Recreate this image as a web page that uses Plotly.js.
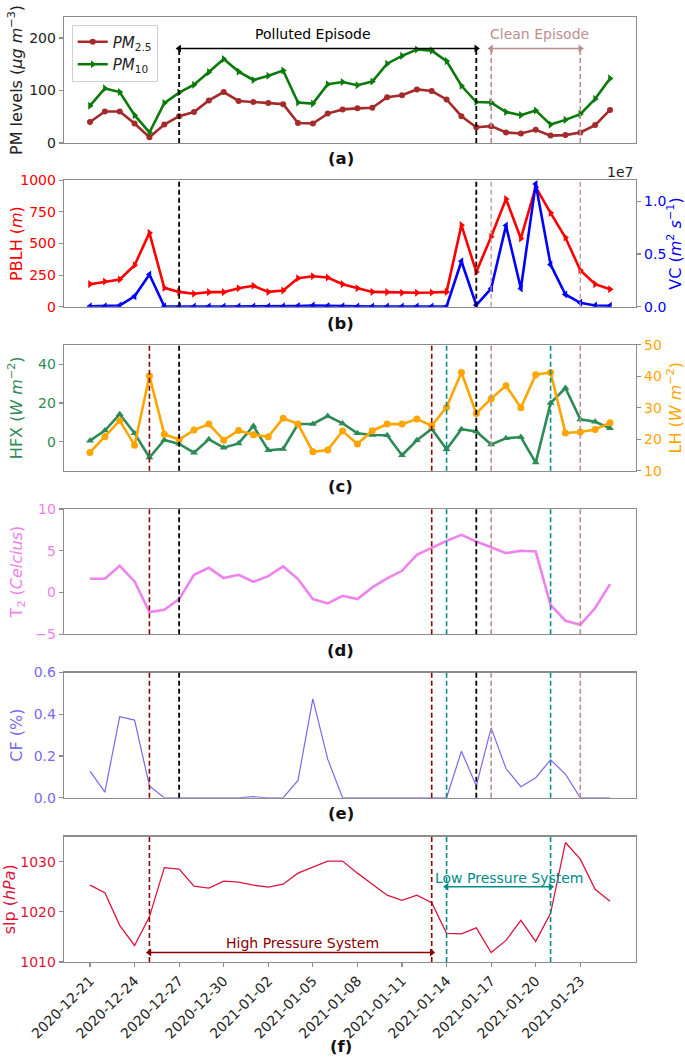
<!DOCTYPE html>
<html>
<head>
<meta charset="utf-8">
<script src="https://cdn.plot.ly/plotly-3.0.1.min.js"></script>
<style>html,body{margin:0;padding:0;background:#fff;}#chart{width:685px;height:1057px;}</style>
</head>
<body>
<div id="chart"></div>
<script>
// ---------------- data ----------------
const dates = ['2020-12-21','2020-12-22','2020-12-23','2020-12-24','2020-12-25','2020-12-26','2020-12-27','2020-12-28','2020-12-29','2020-12-30','2020-12-31',
  '2021-01-01','2021-01-02','2021-01-03','2021-01-04','2021-01-05','2021-01-06','2021-01-07','2021-01-08','2021-01-09','2021-01-10','2021-01-11','2021-01-12',
  '2021-01-13','2021-01-14','2021-01-15','2021-01-16','2021-01-17','2021-01-18','2021-01-19','2021-01-20','2021-01-21','2021-01-22','2021-01-23','2021-01-24','2021-01-25'];
const pm25 = [40,60,60,37,11,35,51,59,81,97,80,78,76,74,38,37,56,64,66,67,87,91,102,99,83,51,30,32,20,18,25,14,15,20,34,63];
const pm10 = [71,104,97,53,20,76,96,111,135,160,136,120,128,138,77,75,112,116,110,117,151,166,178,176,156,109,78,77,59,53,62,35,44,55,84,123];
const pblh = [179,200,216,329,584,150,118,103,116,116,147,166,118,129,226,242,232,179,147,118,116,111,111,113,118,645,276,553,852,540,945,742,547,289,179,139];
const vc = [50000,60000,130000,1000000,3060000,50000,20000,20000,20000,20000,20000,20000,30000,40000,80000,120000,80000,50000,30000,20000,20000,20000,20000,20000,30000,
  4320000,160000,1730000,7700000,1730000,11650000,4000000,1170000,380000,130000,100000];
const hfx = [0.5,5.7,14.2,4.3,-8.2,0.9,-1.2,-5.7,1.2,-3.1,-0.9,8.1,-4.5,-3.8,9.1,9.1,13.2,9.4,4.3,3.4,3.3,-7.0,0.7,6.6,-3.9,6.4,5.2,-1.5,1.7,2.4,-10.8,19.9,27.7,11.5,10.3,6.9];
const lh = [15.8,20.8,25.9,18.1,40.1,21.6,19.9,22.9,24.8,19.7,22.8,21.4,20.8,26.7,24.8,16.0,16.6,22.6,18.5,22.7,24.8,24.8,26.4,24.3,30.2,41.2,28.2,32.9,37.0,30.0,40.5,41.2,22.0,22.3,23.1,25.2];
const t2 = [1.64,1.64,3.19,1.32,-2.35,-2.07,-0.8,2.11,2.95,1.72,2.11,1.28,1.95,3.11,1.6,-0.8,-1.32,-0.4,-0.8,0.6,1.68,2.59,4.51,5.39,6.18,6.9,6.1,5.42,4.71,4.99,4.9,-1.48,-3.39,-3.87,-1.87,1.0];
const cf = [0.128,0.027,0.388,0.372,0.057,0,0,0,0,0,0,0.005,0,0,0.083,0.474,0.185,0,0,0,0,0,0,0,0,0.223,0.057,0.335,0.14,0.053,0.096,0.182,0.113,0,0,0];
const slp = [1025.3,1023.8,1017.3,1013.3,1019.0,1028.8,1028.5,1025.1,1024.7,1026.1,1025.9,1025.3,1024.9,1025.5,1027.7,1028.9,1030.1,1030.1,1027.7,1025.5,1023.3,1022.3,1023.3,1021.8,1015.7,1015.6,1016.8,1011.9,1014.3,1018.3,1014.1,1019.7,1033.8,1030.5,1024.5,1022.1];

const tickDates = ['2020-12-21','2020-12-24','2020-12-27','2020-12-30','2021-01-02','2021-01-05','2021-01-08','2021-01-11','2021-01-14','2021-01-17','2021-01-20','2021-01-23'];

// event dates
const highStart = '2020-12-25', highEnd = '2021-01-13';
const pollStart = '2020-12-27', pollEnd = '2021-01-16';
const lowStart = '2021-01-14', lowEnd = '2021-01-21';
const cleanStart = '2021-01-17', cleanEnd = '2021-01-23';
const arrowLevelPM = 180, arrowLevelHigh = 1011.9, arrowLevelLow = 1025;

// ---------------- style ----------------
const FONT = 'DejaVu Sans, Arial, sans-serif';
const FRAME = '#8c8c8c';
const C = {pm25:'#a52a2a', pm10:'#0a7a0a', pblh:'#ff0000', vc:'#0000ff', hfx:'#2e8b57', lh:'#ffa500',
  t2:'#ee82ee', cf:'#7b68ee', slp:'#dc143c', black:'#000000', darkred:'#8b0000', teal:'#008b8b', rosy:'#bc8f8f'};

const traces = [
  {x:dates, y:pm25, name:'<i>PM</i><sub>2.5</sub>', xaxis:'x', yaxis:'y', mode:'lines+markers',
   line:{color:C.pm25, width:2.6}, marker:{symbol:'circle', size:6, color:C.pm25}},
  {x:dates, y:pm10, name:'<i>PM</i><sub>10</sub>', xaxis:'x', yaxis:'y', mode:'lines+markers',
   line:{color:C.pm10, width:2.6}, marker:{symbol:'triangle-right', size:7, color:C.pm10}},
  {x:dates, y:pblh, xaxis:'x2', yaxis:'y2', mode:'lines+markers', showlegend:false,
   line:{color:C.pblh, width:2.6}, marker:{symbol:'triangle-right', size:7, color:C.pblh}},
  {x:dates, y:vc, xaxis:'x2', yaxis:'y7', mode:'lines+markers', showlegend:false,
   line:{color:C.vc, width:2.6}, marker:{symbol:'triangle-left', size:7, color:C.vc}},
  {x:dates, y:hfx, xaxis:'x3', yaxis:'y3', mode:'lines+markers', showlegend:false,
   line:{color:C.hfx, width:2.6}, marker:{symbol:'triangle-up', size:7, color:C.hfx}},
  {x:dates, y:lh, xaxis:'x3', yaxis:'y8', mode:'lines+markers', showlegend:false,
   line:{color:C.lh, width:2.6}, marker:{symbol:'circle', size:7, color:C.lh}},
  {x:dates, y:t2, xaxis:'x4', yaxis:'y4', mode:'lines', showlegend:false,
   line:{color:C.t2, width:2.6}},
  {x:dates, y:cf, xaxis:'x5', yaxis:'y5', mode:'lines', showlegend:false,
   line:{color:C.cf, width:1.2}},
  {x:dates, y:slp, xaxis:'x6', yaxis:'y6', mode:'lines', showlegend:false,
   line:{color:C.slp, width:1.3}}
];

// double-headed arrows drawn as small traces
function arrowTrace(xa, ya, x0, x1, y, color) {
  traces.push({x:[x0, x1], y:[y, y], xaxis:xa, yaxis:ya, mode:'lines+markers', showlegend:false,
    hoverinfo:'skip', line:{color:color, width:1.6},
    marker:{symbol:['triangle-left','triangle-right'], size:7, color:color}});
}
arrowTrace('x','y',pollStart,pollEnd,arrowLevelPM,C.black);
arrowTrace('x','y',cleanStart,cleanEnd,arrowLevelPM,C.rosy);
arrowTrace('x6','y6',highStart,highEnd,arrowLevelHigh,C.darkred);
arrowTrace('x6','y6',lowStart,lowEnd,arrowLevelLow,C.teal);

const xRange = ['2020-12-19 06:00', '2021-01-26 18:00'];
function xax(anchor, bottom) {
  return {type:'date', range:xRange, anchor:anchor, domain:[0,1], showline:true, mirror:true,
    linecolor:FRAME, linewidth:1.3, showgrid:false, zeroline:false,
    ticks: bottom ? 'outside' : '', ticklen:4, tickcolor:FRAME, tickwidth:1.2,
    showticklabels: !!bottom, tickmode:'array', tickvals:tickDates, ticktext:tickDates,
    tickangle:-45, tickfont:{family:FONT, size:14, color:'#222'}};
}
function yax(dom, range, color, title, extra) {
  return Object.assign({domain:dom, range:range, showline:true, mirror:true, linecolor:FRAME, linewidth:1.3,
    showgrid:false, zeroline:false, ticks:'outside', ticklen:4, tickcolor:FRAME, tickwidth:1.2,
    tickfont:{family:FONT, size:14, color:color},
    title:{text:title, font:{family:FONT, size:16, color:color}}}, extra||{});
}

const D = {a:[0.8667,1.0], b:[0.6933,0.8273], c:[0.5199,0.6531], d:[0.3469,0.4794], e:[0.1738,0.3063], f:[0,0.1328]};

const layout = {
  width:685, height:1057, paper_bgcolor:'#fff', plot_bgcolor:'#fff',
  margin:{l:64, r:49.4, t:16.7, b:94.7},
  font:{family:FONT, size:14, color:'#222'},
  showlegend:true,
  legend:{x:0.0135, y:0.992, xanchor:'left', yanchor:'top', bgcolor:'rgba(255,255,255,0.9)',
    bordercolor:'#d0d0d0', borderwidth:1, font:{family:FONT, size:15, color:'#222'}, tracegroupgap:0},
  xaxis: xax('y', false), xaxis2: xax('y2', false), xaxis3: xax('y3', false),
  xaxis4: xax('y4', false), xaxis5: xax('y5', false), xaxis6: xax('y6', true),
  yaxis: yax(D.a, [0,240], '#222', 'PM levels (<i>μg m</i><sup>−3</sup>)', {anchor:'x', tickvals:[0,100,200]}),
  yaxis2: yax(D.b, [0,1000], C.pblh, 'PBLH (<i>m</i>)', {anchor:'x2', tickvals:[0,250,500,750,1000]}),
  yaxis3: yax(D.c, [-15,50], C.hfx, 'HFX (<i>W m</i><sup>−2</sup>)', {anchor:'x3', tickvals:[0,20,40]}),
  yaxis4: yax(D.d, [-5,10], C.t2, 'T<sub>2</sub> (<i>Celcius</i>)', {anchor:'x4', tickvals:[-5,0,5,10]}),
  yaxis5: yax(D.e, [0,0.6], C.cf, 'CF (%)', {anchor:'x5', tickvals:[0,0.2,0.4,0.6], tickformat:'.1f'}),
  yaxis6: yax(D.f, [1010,1035], C.slp, 'slp (<i>hPa</i>)', {anchor:'x6', tickvals:[1010,1020,1030]}),
  yaxis7: yax(D.b, [0,1.2e7], C.vc, 'VC (<i>m</i><sup>2</sup> <i>s</i><sup>−1</sup>)',
    {anchor:'x2', overlaying:'y2', side:'right', mirror:false, tickvals:[0,5e6,1e7], ticktext:['0.0','0.5','1.0']}),
  yaxis8: yax(D.c, [10,50], C.lh, 'LH (<i>W m</i><sup>−2</sup>)',
    {anchor:'x3', overlaying:'y3', side:'right', mirror:false, tickvals:[10,20,30,40,50]}),
  shapes:[], annotations:[]
};

function vline(xref, yref, date, color, y0, y1, w) {
  layout.shapes.push({type:'line', xref:xref, yref:yref, x0:date, x1:date, y0:y0, y1:y1,
    line:{color:color, width:w||1.6, dash:'5px,3px'}, layer:'above'});
}
// (a)
vline('x','y',pollStart,C.black,0,arrowLevelPM,1.8); vline('x','y',pollEnd,C.black,0,arrowLevelPM,1.8);
vline('x','y',cleanStart,C.rosy,0,arrowLevelPM); vline('x','y',cleanEnd,C.rosy,0,arrowLevelPM);
// (b)
vline('x2','y2 domain',pollStart,C.black,0,1,1.8); vline('x2','y2 domain',pollEnd,C.black,0,1,1.8);
vline('x2','y2 domain',cleanStart,C.rosy,0,1,1.3); vline('x2','y2 domain',cleanEnd,C.rosy,0,1,1.3);
// (c),(d),(e)
[['x3','y3 domain'],['x4','y4 domain'],['x5','y5 domain']].forEach(([xr,yr]) => {
  vline(xr,yr,highStart,C.darkred,0,1); vline(xr,yr,highEnd,C.darkred,0,1);
  vline(xr,yr,lowStart,C.teal,0,1); vline(xr,yr,lowEnd,C.teal,0,1);
  vline(xr,yr,pollStart,C.black,0,1,1.8); vline(xr,yr,pollEnd,C.black,0,1,1.8);
  vline(xr,yr,cleanStart,C.rosy,0,1); vline(xr,yr,cleanEnd,C.rosy,0,1);
});
// (f)
vline('x6','y6 domain',highStart,C.darkred,0,1); vline('x6','y6 domain',highEnd,C.darkred,0,1);
vline('x6','y6 domain',lowStart,C.teal,0,1); vline('x6','y6 domain',lowEnd,C.teal,0,1);

function txt(xr, yr, x, y, text, color, size, extra) {
  layout.annotations.push(Object.assign({xref:xr, yref:yr, x:x, y:y, text:text, showarrow:false,
    xanchor:'center', yanchor:'middle', font:{family:FONT, size:size, color:color}}, extra||{}));
}
txt('x','y','2021-01-05 00:00',208,'Polluted Episode',C.black,14);
txt('x','y','2021-01-20 06:00',208,'Clean Episode',C.rosy,14);
txt('x6','y6','2021-01-18 04:30',1026.8,'Low Pressure System',C.teal,14);
txt('x6','y6','2021-01-04 08:00',1013.8,'High Pressure System',C.darkred,14);
txt('paper','paper',0.972,0.8358,'1e7','#222',14);
const panelLabels = [['(a)',0.8506],['(b)',0.6761],['(c)',0.5027],['(d)',0.3292],['(e)',0.1568],['(f)',-0.0893]];
panelLabels.forEach(([t,y]) => txt('paper','paper',0.4837,y,'<b>'+t+'</b>','#111',16.5));

Plotly.newPlot('chart', traces, layout, {displayModeBar:false, staticPlot:true});
</script>
</body>
</html>
